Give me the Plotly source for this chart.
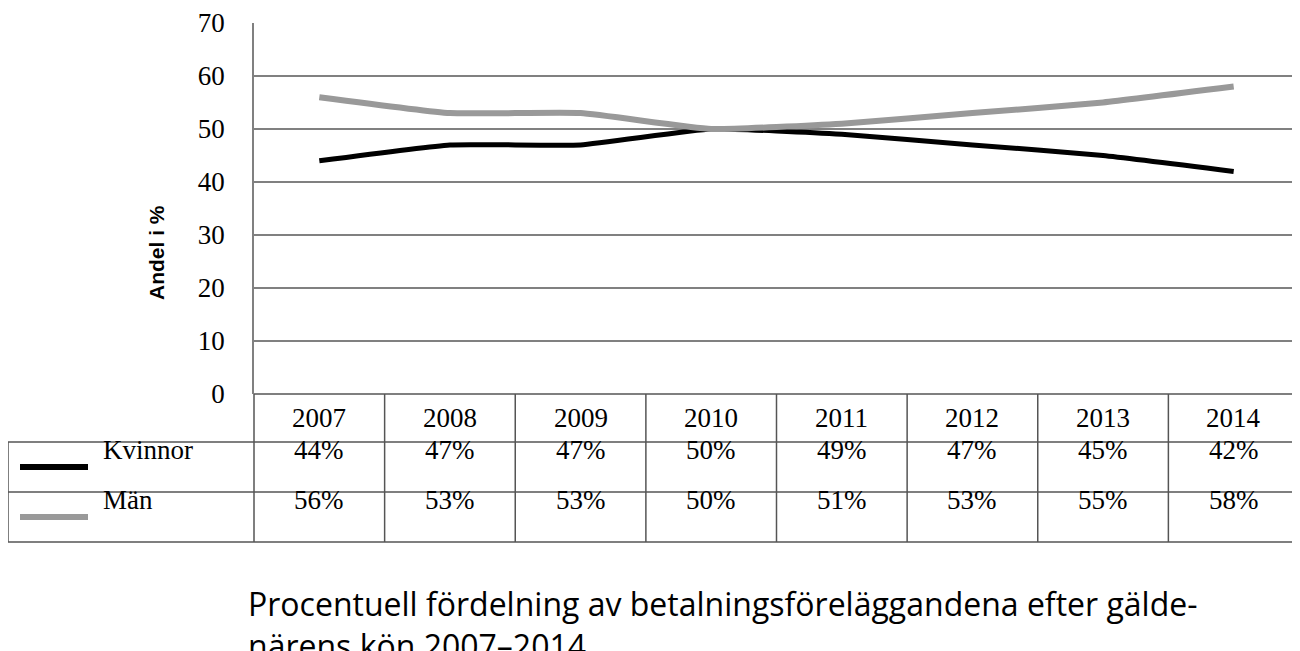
import plotly.graph_objects as go

years = ["2007","2008","2009","2010","2011","2012","2013","2014"]
kvinnor = [44,47,47,50,49,47,45,42]
man = [56,53,53,50,51,53,55,58]
series = [("Kvinnor", kvinnor, "#000000"), ("Män", man, "#999999")]
yticks = [0,10,20,30,40,50,60,70]
caption = "Procentuell fördelning av betalningsföreläggandena efter gälde-<br>närens kön 2007–2014."

W, H = 1300, 651
L, R, T, B = 246, 1291, 15, 386
def px(x): return x / W
def py(y): return 1 - y / H

fig = go.Figure()
for name, vals, col in series:
    fig.add_trace(go.Scatter(x=list(range(len(years))), y=vals, mode="lines", name=name,
                             line=dict(color=col, width=6 if col != "#000000" else 5, shape="spline", smoothing=0.4),
                             showlegend=False, hoverinfo="skip"))

fig.update_layout(
    width=W, height=H, margin=dict(l=0, r=0, t=0, b=0, autoexpand=False),
    paper_bgcolor="white", plot_bgcolor="white",
    xaxis=dict(domain=[px(L), px(R)], range=[-0.5, len(years)-0.5], showticklabels=False,
               showgrid=False, zeroline=False, fixedrange=True, automargin=False),
    yaxis=dict(domain=[py(B), py(T)], range=[0, 70], tickvals=yticks, showgrid=True, automargin=False,
               gridcolor="#808080", gridwidth=1.5, zeroline=False, showline=True,
               linecolor="#808080", linewidth=1.5, ticks="", ticklabelstandoff=22,
               tickfont=dict(family="Liberation Serif", size=27, color="black")),
)

shapes = []
lc = dict(color="#555555", width=1.5)
rows = [386, 434, 484, 534]
shapes.append(dict(type="line", xref="paper", yref="paper", x0=px(L), x1=px(R), y0=py(386), y1=py(386), line=lc))
for y in rows[1:]:
    shapes.append(dict(type="line", xref="paper", yref="paper", x0=0, x1=px(R), y0=py(y), y1=py(y), line=lc))
for x in [0, L, R]:
    y0 = 434 if x == 0 else 386
    shapes.append(dict(type="line", xref="paper", yref="paper", x0=px(x), x1=px(x), y0=py(y0), y1=py(534), line=lc))
for i in range(len(years) - 1):
    shapes.append(dict(type="line", xref="x", yref="paper", x0=i+0.5, x1=i+0.5, y0=py(386), y1=py(534), line=lc))
for (name, vals, col), yc in zip(series, [459, 509]):
    shapes.append(dict(type="line", xref="paper", yref="paper", x0=px(12), x1=px(80), y0=py(yc), y1=py(yc),
                       line=dict(color=col, width=6)))
fig.update_layout(shapes=shapes)

ann = []
tf = dict(family="Liberation Serif", size=27, color="black")
for i, yr in enumerate(years):
    ann.append(dict(x=i, y=py(410), xref="x", yref="paper", text=yr, showarrow=False, font=tf))
for (name, vals, col), yc in zip(series, [459, 509]):
    ann.append(dict(x=px(93), y=py(yc), xref="paper", yref="paper", text=name, showarrow=False,
                    xanchor="left", font=tf))
    for i, v in enumerate(vals):
        ann.append(dict(x=i, y=py(yc), xref="x", yref="paper", text=f"{v}%", showarrow=False, font=tf))
ann.append(dict(x=px(135), y=py(195), xref="paper", yref="paper", text="<b>Andel i %</b>", textangle=-90,
                showarrow=False, font=dict(family="Liberation Sans", size=21, color="black")))
ann.append(dict(x=px(238), y=py(572), xref="paper", yref="paper", text=caption, showarrow=False,
                xanchor="left", yanchor="top", align="left",
                font=dict(family="Open Sans", size=32, color="black")))
fig.update_layout(annotations=ann)

fig.write_html("out.html")
